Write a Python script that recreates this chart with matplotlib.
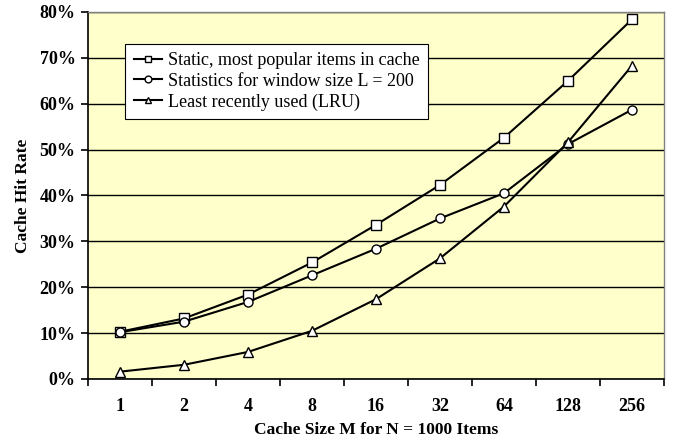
import numpy as np
import matplotlib
matplotlib.use("Agg")
import matplotlib.pyplot as plt
from matplotlib.ticker import FixedLocator, PercentFormatter

plt.rcParams['font.family'] = ['Liberation Serif', 'DejaVu Serif']

# Cache sizes (categories) and hit rates in percent
cache_sizes = ["1", "2", "4", "8", "16", "32", "64", "128", "256"]
static_popular = [10.3, 13.2, 18.4, 25.4, 33.6, 42.3, 52.6, 65.0, 78.4]
window_stats = [10.2, 12.5, 16.8, 22.6, 28.4, 35.0, 40.5, 51.2, 58.7]
lru = [1.6, 3.1, 5.9, 10.5, 17.4, 26.3, 37.6, 51.6, 68.3]

series_labels = ["Static, most popular items in cache",
                 "Statistics for window size L = 200",
                 "Least recently used (LRU)"]

x = np.arange(len(cache_sizes))

fig = plt.figure(figsize=(6.75, 4.41), dpi=100)
ax = fig.add_axes([0.1304, 0.1406, 0.8533, 0.8322])
ax.set_facecolor("#FFFFCC")

style = dict(color="black", linewidth=1.5, markersize=6.5,
             markerfacecolor="white", markeredgecolor="black",
             markeredgewidth=1.0)
ax.plot(x, static_popular, marker="s", label=series_labels[0], **style)
ax.plot(x, window_stats, marker="o", label=series_labels[1], **style)
ax.plot(x, lru, marker="^", label=series_labels[2], **style)

ax.set_xlim(-0.5, len(cache_sizes) - 0.5)
ax.set_ylim(0, 80)

# y axis
ax.set_yticks(np.arange(0, 81, 10))
ax.yaxis.set_major_formatter(PercentFormatter(decimals=0))
ax.grid(axis="y", color="black", linewidth=1.0)
ax.set_axisbelow(True)

# x axis: labels at centres, tick marks between categories
ax.set_xticks(x)
ax.set_xticklabels(cache_sizes)
ax.xaxis.set_minor_locator(FixedLocator(np.arange(-0.5, len(cache_sizes), 1.0)))
ax.tick_params(axis="x", which="major", length=0, pad=14)
ax.tick_params(axis="x", which="minor", length=5, width=1.2, direction="out")
ax.tick_params(axis="y", length=5, width=1.2, direction="out", pad=4)

for lab in ax.get_xticklabels() + ax.get_yticklabels():
    lab.set_fontweight("bold")
    lab.set_fontsize(13)

for side in ["top", "right"]:
    ax.spines[side].set_color("#808080")
    ax.spines[side].set_linewidth(1.0)
for side in ["left", "bottom"]:
    ax.spines[side].set_color("black")
    ax.spines[side].set_linewidth(1.2)

ax.set_xlabel("Cache Size M for N = 1000 Items", fontsize=12.5,
              fontweight="bold", labelpad=5)
ax.set_ylabel("Cache Hit Rate", fontsize=12.5, fontweight="bold", labelpad=6)

leg = ax.legend(loc="upper left", bbox_to_anchor=(0.065, 0.913),
                borderaxespad=0, fancybox=False, framealpha=1,
                edgecolor="black", fontsize=13, handlelength=1.6,
                handletextpad=0.3, labelspacing=0.2, borderpad=0.45,
                markerscale=0.75)
leg.get_frame().set_linewidth(0.8)

fig.savefig("out.png", dpi=100)
